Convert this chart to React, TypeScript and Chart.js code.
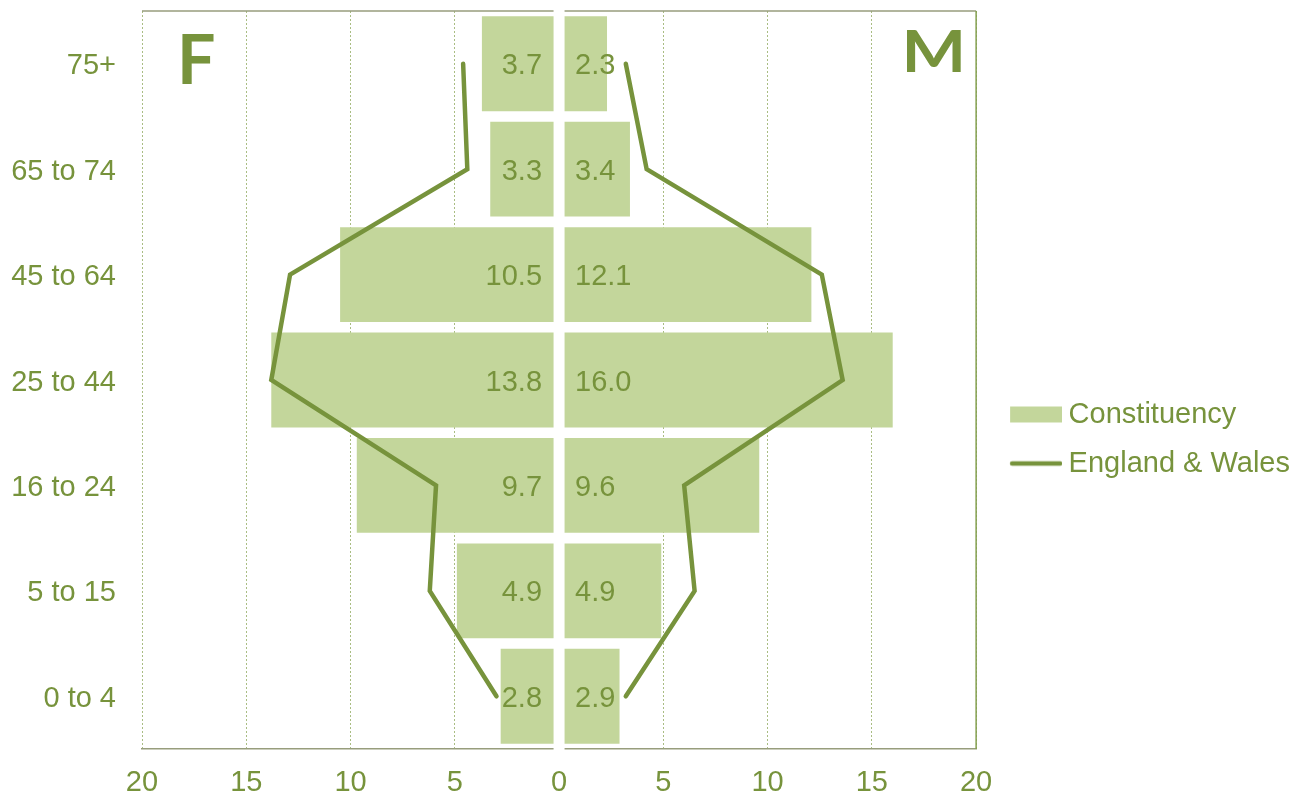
import React, { useEffect, useRef } from 'react';
import { Chart, registerables } from 'chart.js';

Chart.register(...registerables);

const ageGroups = ['75+', '65 to 74', '45 to 64', '25 to 44', '16 to 24', '5 to 15', '0 to 4'];
const constituencyFemale = [3.7, 3.3, 10.5, 13.8, 9.7, 4.9, 2.8];
const constituencyMale = [2.3, 3.4, 12.1, 16.0, 9.6, 4.9, 2.9];
const englandWalesFemale = [4.6, 4.4, 12.9, 13.8, 5.9, 6.2, 3.0];
const englandWalesMale = [3.2, 4.2, 12.6, 13.6, 6.0, 6.5, 3.2];
const axisTicks = [-20, -15, -10, -5, 0, 5, 10, 15, 20];
const seriesNames = ['Constituency', 'England & Wales'];
const sideLabels = ['F', 'M'];

const GREEN = '#77933C';
const BAR = '#C3D69B';
const GRID = '#A9BD83';
const FRAME = '#979D7C';
const RIGHT_EDGE = '#84A050';
const FAMILY = '"Liberation Sans", Arial, sans-serif';
const FONT_SIZE = 29;

function legendSwatch(kind: 'rect' | 'line'): HTMLCanvasElement {
  const c = document.createElement('canvas');
  c.width = 74;
  c.height = 18;
  const g = c.getContext('2d')!;
  if (kind === 'rect') {
    g.fillStyle = BAR;
    g.fillRect(22, 1, 52, 16);
  } else {
    g.strokeStyle = GREEN;
    g.lineWidth = 4.5;
    g.lineCap = 'round';
    g.beginPath();
    g.moveTo(24, 9);
    g.lineTo(72, 9);
    g.stroke();
  }
  return c;
}

const overlayPlugin = {
  id: 'pyramidOverlay',
  afterDatasetsDraw(chart: any) {
    const { ctx, chartArea: a } = chart;
    const xs = chart.scales.x;
    const x0 = xs.getPixelForValue(0);
    ctx.save();
    ctx.setLineDash([]);
    // top frame
    ctx.strokeStyle = FRAME;
    ctx.lineWidth = 1.5;
    ctx.beginPath();
    ctx.moveTo(a.left, a.top);
    ctx.lineTo(a.right, a.top);
    ctx.stroke();
    // right frame
    ctx.strokeStyle = RIGHT_EDGE;
    ctx.beginPath();
    ctx.moveTo(a.right, a.top);
    ctx.lineTo(a.right, a.bottom);
    ctx.stroke();
    // white gap at zero
    ctx.fillStyle = '#ffffff';
    ctx.fillRect(x0 - 5.5, a.top - 2, 11, a.bottom - a.top + 4);
    // value labels
    ctx.font = FONT_SIZE + 'px ' + FAMILY;
    ctx.fillStyle = GREEN;
    ctx.textBaseline = 'middle';
    const f = chart.getDatasetMeta(0);
    const m = chart.getDatasetMeta(1);
    f.data.forEach((bar: any, i: number) => {
      ctx.textAlign = 'right';
      ctx.fillText(constituencyFemale[i].toFixed(1), x0 - 17, bar.y + 2.5);
    });
    m.data.forEach((bar: any, i: number) => {
      ctx.textAlign = 'left';
      ctx.fillText(constituencyMale[i].toFixed(1), x0 + 16, bar.y + 2.5);
    });
    // F / M side letters
    ctx.textBaseline = 'alphabetic';
    ctx.font = 'bold 68px Lato, "Open Sans", sans-serif';
    ctx.textAlign = 'left';
    ctx.fillText(sideLabels[0], a.left + 35, a.top + 73);
    ctx.save();
    ctx.translate(a.right - 10, a.top + 61);
    ctx.scale(1.2, 1);
    ctx.font = 'bold 57px Lato, "Open Sans", sans-serif';
    ctx.textAlign = 'right';
    ctx.fillText(sideLabels[1], 0, 0);
    ctx.restore();
    ctx.restore();
  },
};

export default function App() {
  const ref = useRef<HTMLCanvasElement | null>(null);

  useEffect(() => {
    if (!ref.current) return;
    const rectSwatch = legendSwatch('rect');
    const lineSwatch = legendSwatch('line');
    const chart = new Chart(ref.current, {
      type: 'bar',
      data: {
        labels: ageGroups,
        datasets: [
          {
            type: 'bar',
            label: seriesNames[0],
            data: constituencyFemale.map((v) => -v),
            backgroundColor: BAR,
            borderWidth: 0,
            barPercentage: 0.9,
            categoryPercentage: 1.0,
            grouped: false,
            order: 2,
          },
          {
            type: 'bar',
            label: seriesNames[0],
            data: constituencyMale,
            backgroundColor: BAR,
            borderWidth: 0,
            barPercentage: 0.9,
            categoryPercentage: 1.0,
            grouped: false,
            order: 2,
          },
          {
            type: 'line',
            label: seriesNames[1],
            indexAxis: 'y',
            data: englandWalesFemale.map((v) => -v),
            borderColor: GREEN,
            backgroundColor: GREEN,
            borderWidth: 4.5,
            borderCapStyle: 'round',
            borderJoinStyle: 'miter',
            pointRadius: 0,
            tension: 0,
            fill: false,
            order: 0,
          },
          {
            type: 'line',
            label: seriesNames[1],
            indexAxis: 'y',
            data: englandWalesMale,
            borderColor: GREEN,
            backgroundColor: GREEN,
            borderWidth: 4.5,
            borderCapStyle: 'round',
            borderJoinStyle: 'miter',
            pointRadius: 0,
            tension: 0,
            fill: false,
            order: 0,
          },
        ] as any,
      },
      options: {
        indexAxis: 'y',
        animation: false,
        responsive: true,
        maintainAspectRatio: false,
        layout: { padding: { top: 11, right: 7, bottom: 0, left: 0 } },
        scales: {
          x: {
            type: 'linear',
            min: -20,
            max: 20,
            afterBuildTicks: (s: any) => {
              s.ticks = axisTicks.map((v) => ({ value: v }));
            },
            afterFit: (s: any) => {
              s.height = 50;
              s.paddingLeft = 0;
              s.paddingRight = 0;
            },
            ticks: {
              callback: (v: any) => String(Math.abs(Number(v))),
              color: GREEN,
              font: { size: FONT_SIZE, family: FAMILY },
              padding: 17,
              maxRotation: 0,
            },
            grid: {
              color: (c: any) => (c.tick && c.tick.value === 0 ? 'rgba(0,0,0,0)' : GRID),
              lineWidth: 1,
              drawTicks: false,
            },
            border: { display: true, color: FRAME, width: 1.5, dash: [2, 2] },
          },
          y: {
            type: 'category',
            afterFit: (s: any) => {
              s.width = 142;
              s.paddingTop = 0;
              s.paddingBottom = 0;
            },
            ticks: {
              color: GREEN,
              font: { size: FONT_SIZE, family: FAMILY },
              padding: 26,
              labelOffset: 2.5,
            },
            grid: { display: false, drawTicks: false },
            border: { display: false },
          },
        },
        plugins: {
          tooltip: { enabled: false },
          legend: {
            position: 'right',
            onClick: () => {},
            title: { display: true, text: ' ', font: { size: 10 }, padding: { top: 56, bottom: 0 } },
            labels: {
              usePointStyle: true,
              pointStyleWidth: 58,
              boxHeight: 16,
              padding: 20,
              color: GREEN,
              font: { size: FONT_SIZE, family: FAMILY },
              generateLabels: () => [
                {
                  text: seriesNames[0],
                  fillStyle: BAR,
                  strokeStyle: BAR,
                  lineWidth: 0,
                  pointStyle: rectSwatch,
                  hidden: false,
                  datasetIndex: 0,
                  fontColor: GREEN,
                },
                {
                  text: seriesNames[1],
                  fillStyle: GREEN,
                  strokeStyle: GREEN,
                  lineWidth: 0,
                  pointStyle: lineSwatch,
                  hidden: false,
                  datasetIndex: 2,
                  fontColor: GREEN,
                },
              ] as any,
            },
          },
        },
      },
      plugins: [overlayPlugin],
    });
    return () => chart.destroy();
  }, []);

  return (
    <div style={{ position: 'fixed', left: 0, top: 0, width: 1307, height: 799, background: '#fff' }}>
      <canvas ref={ref} />
    </div>
  );
}
